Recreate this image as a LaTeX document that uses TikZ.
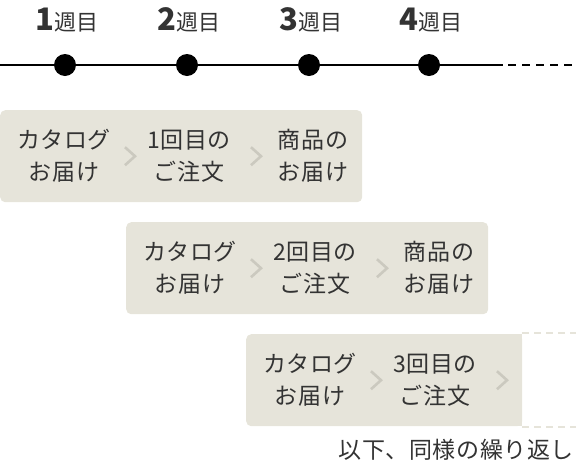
\documentclass[tikz,border=0pt]{standalone}
\usepackage{fontspec}
\setmainfont{Noto Sans CJK JP}
\newfontfamily\stepfont{Noto Sans CJK JP}[LetterSpace=2.5]
\usetikzlibrary{positioning,calc}
\definecolor{ink}{HTML}{333333}
\definecolor{bandgray}{HTML}{E6E4DA}
\definecolor{chevgray}{HTML}{CBC9BF}

\begin{document}
\begin{tikzpicture}[x=1pt,y=-1pt,
        week/.style={
                anchor=base,
                inner sep=0pt,
                text=ink,
                font=\fontsize{22}{22}\selectfont
            },
        point/.style={
                circle,
                fill=black,
                minimum size=22pt,
                inner sep=0pt
            },
        rail/.style={
                line width=2.4pt,
                black
            },
        band/.style={
                fill=bandgray,
                rounded corners=5pt,
                minimum height=92pt,
                anchor=north west,
                inner sep=0pt
            },
        stage/.style={
                align=center,
                inner sep=0pt,
                text=ink,
                font=\stepfont\fontsize{23}{32}\selectfont
            },
        chevron/.style={
                draw=chevgray,
                line width=2.6pt
            },
    ]
    \useasboundingbox (0,0) rectangle (576,464);

    % timeline
    \coordinate (tl-start) at (0,65);
    \coordinate (tl-end) at (503,65);
    \coordinate (tl-more) at (576,65);
    \draw[rail] (tl-start) -- (tl-end);
    \draw[rail, dash pattern=on 8pt off 6pt] ([xshift=5pt]tl-end) -- (tl-more);
    \foreach \i/\x in {1/65,2/187,3/309,4/429}{
            \node[point] (d\i) at (\x,65) {};
            \node[week] (w\i) at ($(d\i)+(2,-35)$) {{\bfseries\fontsize{31}{31}\selectfont\i}週目};
        }

    % orders, one band per week
    \foreach \r/\x/\y in {1/0/110, 2/126/222}{
            \node[band, minimum width=362pt] (b\r) at (\x,\y) {};
            \node[stage] (c\r) at ($(b\r.west)+(64,0)$) {カタログ\\お届け};
            \node[stage] (o\r) at ($(b\r.west)+(189,0)$) {\r 回目の\\ご注文};
            \node[stage] (g\r) at ($(b\r.west)+(313,0)$) {商品の\\お届け};
            \draw[chevron] ($(b\r.west)+(125,-9)$) -- ++(10,9) -- ++(-10,9);
            \draw[chevron] ($(b\r.west)+(251,-9)$) -- ++(10,9) -- ++(-10,9);
        }

    % third band, open to the right
    \node[band, minimum width=276pt] (b3) at (246,334) {};
    \fill[bandgray] ([xshift=-10pt]b3.north east) rectangle (b3.south east);
    \draw[bandgray, line width=2pt, dash pattern=on 7pt off 5pt]
        ([yshift=1pt]b3.north east) -- ++(54,0);
    \draw[bandgray, line width=2pt, dash pattern=on 7pt off 5pt]
        ([yshift=-1pt]b3.south east) -- ++(54,0);
    \node[stage] (c3) at ($(b3.west)+(64,0)$) {カタログ\\お届け};
    \node[stage] (o3) at ($(b3.west)+(189,0)$) {3回目の\\ご注文};
    \draw[chevron] ($(b3.west)+(125,-9)$) -- ++(10,9) -- ++(-10,9);
    \draw[chevron] ($(b3.west)+(251,-9)$) -- ++(10,9) -- ++(-10,9);

    \node[anchor=base east, inner sep=0pt, text=ink, font=\stepfont\fontsize{23}{23}\selectfont]
        (note) at (574,458) {以下、同様の繰り返し};
\end{tikzpicture}
\end{document}
